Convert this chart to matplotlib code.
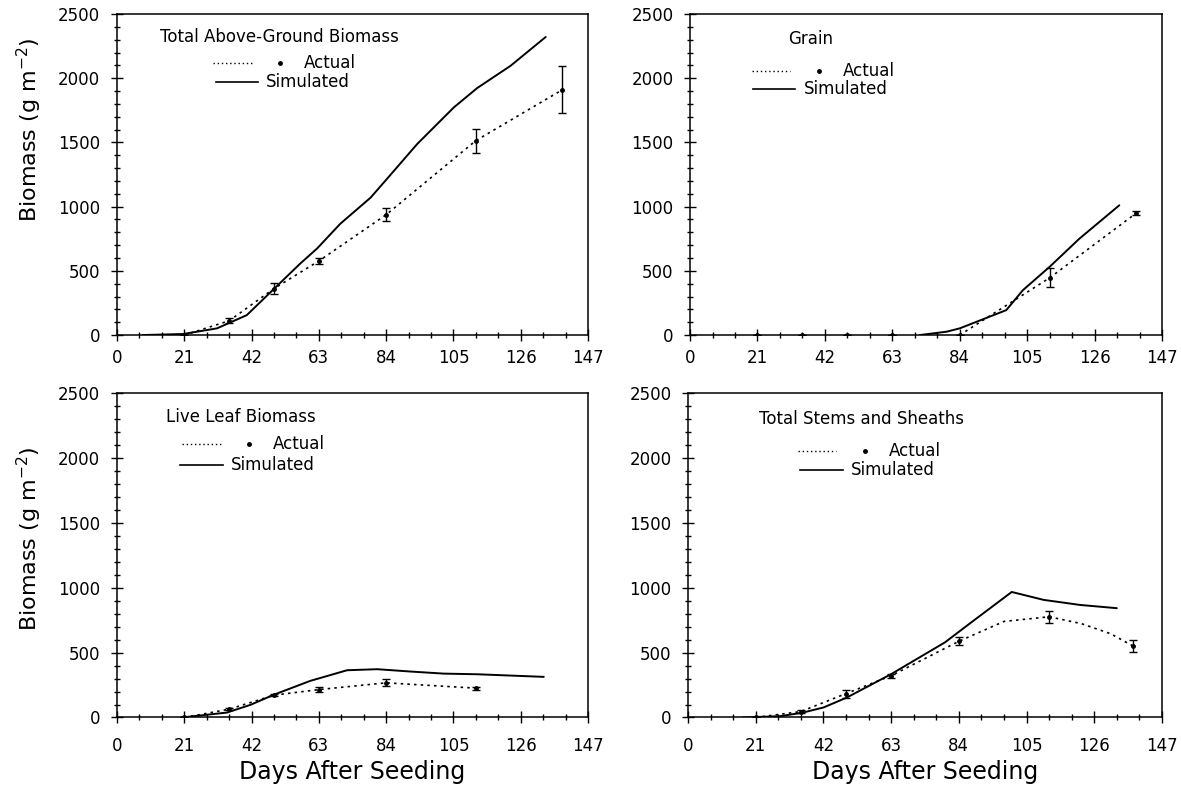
import matplotlib.pyplot as plt
import numpy as np
from matplotlib.ticker import MultipleLocator

plt.rcParams['font.family'] = ['DejaVu Sans']
plt.rcParams['mathtext.default'] = 'regular'

# ---- data (days after seeding, g m-2) ----
obs_days = [21, 35, 49, 63, 84, 112, 139]

total_sim_days = [8, 20.6, 31.2, 40.5, 48.8, 57.2, 62.4, 69.7, 79.1, 83.8, 93.7, 105.1, 112.4, 122.8, 133.8]
total_sim = [0, 8, 52, 155, 355, 557, 673, 867, 1069, 1203, 1488, 1772, 1923, 2096, 2321]
total_obs = [0, 111, 362, 577, 937, 1514, 1910]
total_err = [0, 20, 44, 25, 49, 94, 181]

grain_sim_days = [71.6, 79.9, 84, 98.5, 103.7, 112, 121.3, 133.7]
grain_sim = [0, 26, 52, 194, 350, 531, 751, 1010]
grain_obs = [0, 0, 0, 0, 0, 445, 950]
grain_err = [0, 0, 0, 0, 0, 74, 15]

leaf_sim_days = [20.2, 34.3, 41.6, 48.8, 60.3, 71.8, 81.2, 91.6, 102, 112.4, 133.2]
leaf_sim = [0, 38, 97, 174, 282, 364, 372, 354, 338, 333, 313]
leaf_obs_days = [21, 35, 49, 63, 84, 112]
leaf_obs = [0, 64, 172, 215, 267, 226]
leaf_err = [0, 8, 10, 18, 28, 12]

stem_sim_days = [17, 28.5, 35.3, 42, 49.2, 63.2, 79.7, 88.5, 100.4, 110.3, 121.6, 133]
stem_sim = [0, 10, 36, 77, 153, 337, 579, 745, 967, 906, 867, 842]
stem_obs_days = [21, 35, 49, 63, 84, 112, 138]
stem_obs = [0, 46, 184, 322, 587, 776, 551]
stem_err = [0, 15, 31, 15, 30, 47, 49]
stem_fit_days = [21, 35, 49, 63, 84, 98, 112, 122, 131, 138]
stem_fit = [0, 46, 184, 322, 587, 740, 776, 723, 646, 551]

xticks = [0, 21, 42, 63, 84, 105, 126, 147]
yticks = [0, 500, 1000, 1500, 2000, 2500]

panels = [
    dict(title='Total Above-Ground Biomass', sx=total_sim_days, sy=total_sim,
         ox=obs_days, oy=total_obs, oe=total_err, fx=obs_days, fy=total_obs,
         rect=[0.0991, 0.5732, 0.3988, 0.4090], ylab_y=0.64,
         leg=dict(title=(0.091, 0.927), dot=(0.204, 0.287, 0.846), mk=0.346, act=0.397,
                  sol=(0.210, 0.299, 0.789), sim=0.316)),
    dict(title='Grain', sx=grain_sim_days, sy=grain_sim,
         ox=obs_days, oy=grain_obs, oe=grain_err, fx=obs_days[4:], fy=grain_obs[4:],
         rect=[0.5843, 0.5732, 0.3996, 0.4090], ylab_y=None,
         leg=dict(title=(0.208, 0.921), dot=(0.131, 0.212, 0.822), mk=0.274, act=0.324,
                  sol=(0.134, 0.223, 0.765), sim=0.242)),
    dict(title='Live Leaf Biomass', sx=leaf_sim_days, sy=leaf_sim,
         ox=leaf_obs_days, oy=leaf_obs, oe=leaf_err, fx=leaf_obs_days, fy=leaf_obs,
         rect=[0.0991, 0.0860, 0.3988, 0.4134], ylab_y=0.55,
         leg=dict(title=(0.103, 0.925), dot=(0.137, 0.220, 0.842), mk=0.280, act=0.331,
                  sol=(0.134, 0.224, 0.778), sim=0.242)),
    dict(title='Total Stems and Sheaths', sx=stem_sim_days, sy=stem_sim,
         ox=stem_obs_days, oy=stem_obs, oe=stem_err, fx=stem_fit_days, fy=stem_fit,
         rect=[0.5826, 0.0860, 0.4013, 0.4134], ylab_y=None,
         leg=dict(title=(0.150, 0.919), dot=(0.233, 0.312, 0.822), mk=0.374, act=0.423,
                  sol=(0.236, 0.326, 0.764), sim=0.344)),
]

fig = plt.figure(figsize=(11.81, 7.85), dpi=100)

for i, p in enumerate(panels):
    ax = fig.add_axes(p['rect'])
    ax.plot(p['sx'], p['sy'], color='black', lw=1.4, solid_capstyle='round')
    ax.plot(p['fx'], p['fy'], color='black', lw=1.2, ls=(0, (1.5, 2.5)))
    ax.errorbar(p['ox'], p['oy'], yerr=p['oe'], fmt='o', ms=2.5, color='black',
                ecolor='black', elinewidth=1.0, capsize=3, capthick=1.0)

    ax.set_xlim(0, 147)
    ax.set_ylim(0, 2500)
    ax.set_xticks(xticks)
    ax.set_yticks(yticks)
    ax.xaxis.set_minor_locator(MultipleLocator(7))
    ax.yaxis.set_minor_locator(MultipleLocator(100))
    ax.tick_params(which='major', direction='inout', length=8, width=1.0,
                   labelsize=12, top=False, right=False)
    ax.tick_params(which='minor', direction='inout', length=5, width=1.0,
                   top=False, right=False)
    ax.tick_params(axis='y', pad=8)
    ax.tick_params(axis='x', pad=6 if i < 2 else 10)
    for s in ax.spines.values():
        s.set_linewidth(1.1)

    if i % 2 == 0:
        ax.set_ylabel('Biomass (g m$^{-2}$)', fontsize=16)
        ax.yaxis.set_label_coords(-0.155, p['ylab_y'])
    if i >= 2:
        ax.set_xlabel('Days After Seeding', fontsize=17, labelpad=4)

    lg = p['leg']
    tr = ax.transAxes
    ax.text(lg['title'][0], lg['title'][1], p['title'], transform=tr,
            fontsize=12, ha='left', va='center')
    ax.plot([lg['dot'][0], lg['dot'][1]], [lg['dot'][2]] * 2, transform=tr,
            color='black', lw=1.0, ls=(0, (1, 2)))
    ax.plot([lg['mk']], [lg['dot'][2]], 'o', ms=2.5, color='black', transform=tr)
    ax.text(lg['act'], lg['dot'][2], 'Actual', transform=tr, fontsize=12,
            ha='left', va='center')
    ax.plot([lg['sol'][0], lg['sol'][1]], [lg['sol'][2]] * 2, transform=tr,
            color='black', lw=1.2)
    ax.text(lg['sim'], lg['sol'][2], 'Simulated', transform=tr, fontsize=12,
            ha='left', va='center')

fig.savefig('out.png', dpi=100)
